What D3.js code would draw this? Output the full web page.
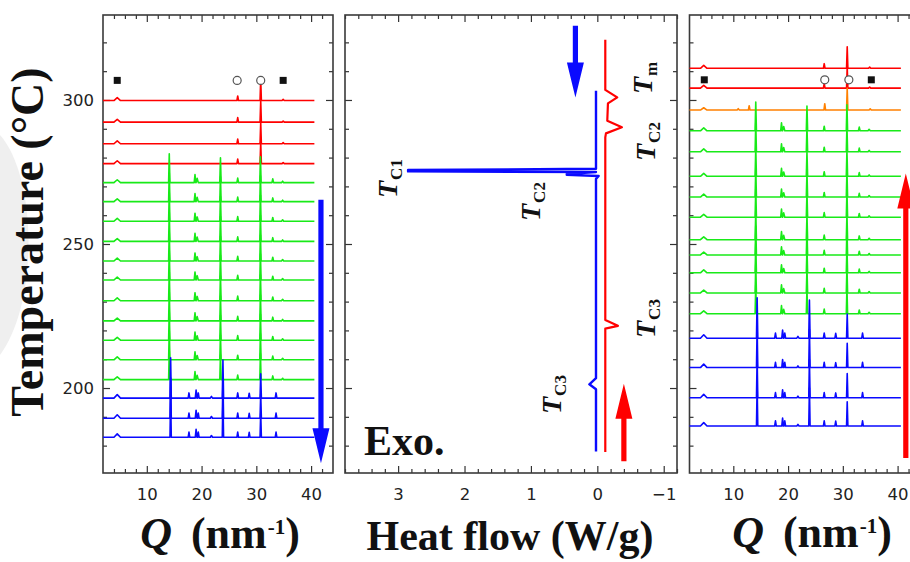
<!DOCTYPE html>
<html>
<head>
<meta charset="utf-8">
<script src="https://cdn.jsdelivr.net/npm/d3@7"></script>
<style>
  html, body { margin: 0; padding: 0; background: #fff; }
  svg { display: block; }
  .tick text { font-family: "DejaVu Sans", Arial, sans-serif; font-size: 16.5px; fill: #222; }
  .tick line { stroke: #333; stroke-width: 1.2; }
  .serif { font-family: "Liberation Serif", "Times New Roman", serif; font-weight: bold; fill: #111; }
</style>
</head>
<body>
<svg id="canvas" width="910" height="562"></svg>
<script>
'use strict';

/* XRD on cooling (left panel): temperature of each trace, top to bottom */
const coolTemps  = [299.8, 292.3, 284.8, 277.9, 271.3, 264.7, 257.9, 250.9, 244.1, 237.5,
                    230.3, 223.3, 216.6, 209.8, 202.9, 196.5, 189.5, 182.9];
const coolPhases = ['melt', 'melt', 'melt', 'melt', 'mid', 'mid', 'mid', 'mid', 'mid', 'mid',
                    'mid', 'mid', 'mid', 'mid', 'mid', 'low', 'low', 'low'];

/* XRD on heating (right panel) */
const heatTemps  = [311.0, 304.1, 296.5, 289.3, 282.0, 273.5, 266.3, 259.3, 251.5, 246.2,
                    240.0, 233.0, 225.8, 217.3, 207.1, 196.6, 186.8];
const heatPhases = ['melt', 'melt', 'trans', 'mid', 'mid', 'mid', 'mid', 'mid', 'mid', 'mid',
                    'mid', 'mid', 'mid', 'low', 'low', 'low', 'low'];

/* peaks of each phase: [Q (nm-1), height (in °C of offset), half width (nm-1)] */
const meltPeaks  = [[4.6, 1.0, 0.6], [26.6, 1.6, 0.15], [30.8, 7.5, 0.12], [34.9, 0.4, 0.2]];
const transPeaks = [[4.6, 0.8, 0.6], [10.9, 0.5, 0.2], [12.9, 1.5, 0.15], [26.7, 2.2, 0.15],
                    [30.8, 7.6, 0.12], [35.0, 0.4, 0.2]];
const midPeaks   = [[4.6, 1.0, 0.6], [14.1, 10, 0.12], [18.8, 2.8, 0.15], [19.2, 1.5, 0.2],
                    [23.45, 8.6, 0.12], [26.6, 1.6, 0.15], [30.75, 9, 0.12], [33.0, 1.3, 0.15],
                    [34.8, 0.5, 0.2]];
const lowPeaks   = [[4.6, 1.2, 0.6], [14.35, 14, 0.12], [17.7, 1.8, 0.15], [19.0, 2.8, 0.15],
                    [19.4, 1.8, 0.15], [21.8, 0.6, 0.2], [23.9, 13.2, 0.12], [26.6, 1.8, 0.15],
                    [28.7, 1.7, 0.15], [30.8, 8.4, 0.12], [33.6, 1.8, 0.15]];
const qRange = [2.0, 40.6];

/* phase markers above the traces */
const coolSquares = [4.6, 34.9], coolCircles = [26.5, 30.8];
const heatSquares = [4.7, 35.2], heatCircles = [26.7, 31.1];
const coolMarkT = 306.8, heatMarkT = 307.0;

/* DSC traces: [heat flow (W/g), temperature (°C)] */
const coolDSC = [[0.02, 303.2], [0.02, 276.1], [2.85, 275.7], [2.85, 275.2], [0.02, 275.0],
                 [0.46, 274.3], [0.46, 274.0], [-0.02, 273.6], [0.02, 272.6], [0.02, 203.4],
                 [0.12, 201.3], [0.02, 199.6], [0.02, 178.0]];
const heatDSC = [[-0.12, 320.9], [-0.12, 303.5], [-0.30, 300.9], [-0.16, 298.8], [-0.15, 292.8],
                 [-0.37, 290.5], [-0.13, 288.4], [-0.12, 287.0], [-0.12, 223.6], [-0.31, 221.6],
                 [-0.12, 220.6], [-0.12, 177.8]];

/* arrows: [x value, start temperature, tip temperature] */
const coolArrowXRD = [41.8, 265.4, 173.9];
const heatArrowXRD = [41.5, 175.7, 274.5];
const coolArrowDSC = [0.33, 325.8, 300.9];
const heatArrowDSC = [-0.40, 174.6, 201.5];

const colors = { melt: '#ff0000', trans: '#ff8000', mid: '#18ea18', low: '#0a0aff' };
const peakSets = { melt: meltPeaks, trans: transPeaks, mid: midPeaks, low: lowPeaks };

const svg = d3.select('#canvas');
const plotTop = 15, plotBottom = 473;

/* faint watermark behind the left axis title */
svg.append('path')
  .attr('d', 'M0,135 C36,175 40,300 0,355 Z')
  .style('fill', '#efefef');

const yT = d3.scaleLinear().domain([170.5, 329.5]).range([plotBottom, plotTop]);
const xLeft = d3.scaleLinear().domain([2, 44]).range([103, 333]);
const xMid = d3.scaleLinear().domain([3.8, -1.2]).range([345, 677]);
const xRight = d3.scaleLinear().domain([2, 44]).range([689.5, 919.5]);

/* ticks pointing inward on all four sides of a panel */
function frame(x, y, xMajor, xMinor, yLabels, xLabels, fmt){
  let g = svg.append('g');
  let x0 = x.range()[0], x1 = x.range()[1];
  let yMajor = [200, 250, 300], yMinor = d3.range(180, 330, 10).filter(v => v % 50);

  let mk = function(axis, tr, values, size, labels, side){
    let a = axis.tickValues(values).tickSize(-size).tickPadding(labels ? 9 : 0);
    if(!labels) a.tickFormat('');
    else if(fmt) a.tickFormat(fmt);
    let ax = g.append('g').attr('transform', tr).call(a);
    ax.select('.domain').remove();
    if(labels && side === 'bottom'){
      ax.selectAll('.tick text').attr('dy', null).attr('y', 27);
    }
    if(labels && side === 'left'){
      ax.selectAll('.tick text').attr('dy', '0.36em');
    }
  };
  mk(d3.axisBottom(x), `translate(0,${plotBottom})`, xMajor, 7, xLabels, 'bottom');
  mk(d3.axisBottom(x), `translate(0,${plotBottom})`, xMinor, 4, false);
  mk(d3.axisTop(x), `translate(0,${plotTop})`, xMajor, 7, false);
  mk(d3.axisTop(x), `translate(0,${plotTop})`, xMinor, 4, false);
  mk(d3.axisLeft(y), `translate(${x0},0)`, yMajor, 7, yLabels, 'left');
  mk(d3.axisLeft(y), `translate(${x0},0)`, yMinor, 4, false);
  mk(d3.axisRight(y), `translate(${x1},0)`, yMajor, 7, false);
  mk(d3.axisRight(y), `translate(${x1},0)`, yMinor, 4, false);

  svg.append('rect')
    .attr('x', x0).attr('y', plotTop)
    .attr('width', x1 - x0).attr('height', plotBottom - plotTop)
    .style('fill', 'none').style('stroke', '#3a3a3a').style('stroke-width', 1.6);
}

/* one XRD trace as a polyline through baseline and peak apex points */
function tracePoints(T, peaks){
  let pts = [[qRange[0], T]];
  peaks.forEach(function(p){
    pts.push([p[0] - p[2], T], [p[0], T + p[1]], [p[0] + p[2], T]);
  });
  pts.push([qRange[1], T]);
  return pts;
}

function xrdPanel(x, temps, phases, squares, circles, markT){
  let line = d3.line().x(d => x(d[0])).y(d => yT(d[1]));
  let traces = temps.map((T, i) => ({ phase: phases[i], pts: tracePoints(T, peakSets[phases[i]]) }));
  svg.append('g').selectAll('path')
    .data(traces)
    .enter().append('path')
      .attr('d', d => line(d.pts))
      .style('fill', 'none')
      .style('stroke', d => colors[d.phase])
      .style('stroke-width', 1.6)
      .style('stroke-linejoin', 'round');

  svg.append('g').selectAll('rect')
    .data(squares)
    .enter().append('rect')
      .attr('x', d => x(d) - 3.5).attr('y', yT(markT) - 3.5)
      .attr('width', 7).attr('height', 7)
      .style('fill', '#111');
  svg.append('g').selectAll('circle')
    .data(circles)
    .enter().append('circle')
      .attr('cx', d => x(d)).attr('cy', yT(markT)).attr('r', 4)
      .style('fill', '#fff').style('stroke', '#555').style('stroke-width', 1.2);
}

function arrow(x, a, color){
  let ax = x(a[0]), y0 = yT(a[1]), y1 = yT(a[2]);
  let dir = y1 > y0 ? 1 : -1, head = 35, hw = 8.5, sw = 2.6;
  let yb = y1 - dir * head;
  let pts = [[ax - sw, y0], [ax - sw, yb], [ax - hw, yb], [ax, y1], [ax + hw, yb], [ax + sw, yb], [ax + sw, y0]];
  svg.append('path')
    .attr('d', d3.line()(pts) + 'Z')
    .style('fill', color);
}

function tLabel(px, py, sub){
  let t = svg.append('text').attr('class', 'serif')
    .attr('transform', `translate(${px},${py}) rotate(-90)`);
  t.append('tspan').style('font-style', 'italic').style('font-size', '28px').text('T');
  t.append('tspan').style('font-size', '17px').attr('dx', 1).attr('dy', 5).text(sub);
}

function qTitle(cx, by){
  let t = svg.append('text').attr('class', 'serif')
    .attr('x', cx).attr('y', by).attr('text-anchor', 'middle').style('font-size', '44px');
  t.append('tspan').style('font-style', 'italic').text('Q');
  t.append('tspan').attr('dx', 19).text('(nm');
  t.append('tspan').style('font-size', '21px').attr('dx', 1).attr('dy', -14).text('-1');
  t.append('tspan').attr('dy', 14).text(')');
}

/* left panel: XRD on cooling */
frame(xLeft, yT, [10, 20, 30, 40], d3.range(4, 44, 2).filter(v => v % 10), true, true);
xrdPanel(xLeft, coolTemps, coolPhases, coolSquares, coolCircles, coolMarkT);
arrow(xLeft, coolArrowXRD, colors.low);

/* middle panel: DSC */
frame(xMid, yT, [3, 2, 1, 0, -1],
      d3.range(-1.2, 3.81, 0.2).map(v => +v.toFixed(1)).filter(v => Math.abs(v % 1) > 0.01),
      false, true, d => d < 0 ? '\u22121' : d);
let dscLine = d3.line().x(d => xMid(d[0])).y(d => yT(d[1]));
svg.append('path').datum(coolDSC).attr('d', dscLine)
  .style('fill', 'none').style('stroke', colors.low).style('stroke-width', 2.4).style('stroke-linejoin', 'round');
svg.append('path').datum(heatDSC).attr('d', dscLine)
  .style('fill', 'none').style('stroke', colors.melt).style('stroke-width', 2.2).style('stroke-linejoin', 'round');
arrow(xMid, coolArrowDSC, colors.low);
arrow(xMid, heatArrowDSC, colors.melt);
tLabel(397, 198, 'C1');
tLabel(540, 221, 'C2');
tLabel(652, 94, 'm');
tLabel(655, 161, 'C2');
tLabel(655, 338, 'C3');
tLabel(561, 414, 'C3');
svg.append('text').attr('class', 'serif').attr('x', 364).attr('y', 455)
  .style('font-size', '42px').text('Exo.');

/* right panel: XRD on heating */
frame(xRight, yT, [10, 20, 30, 40], d3.range(4, 44, 2).filter(v => v % 10), false, true);
xrdPanel(xRight, heatTemps, heatPhases, heatSquares, heatCircles, heatMarkT);
arrow(xRight, heatArrowXRD, colors.melt);

/* axis titles */
svg.append('text').attr('class', 'serif')
  .attr('transform', 'translate(43,242) rotate(-90)')
  .attr('text-anchor', 'middle').style('font-size', '46px')
  .text('Temperature (\u00B0C)');
qTitle(220, 548);
qTitle(812, 547);
svg.append('text').attr('class', 'serif')
  .attr('x', 510).attr('y', 550).attr('text-anchor', 'middle').style('font-size', '42px')
  .text('Heat flow (W/g)');
</script>
</body>
</html>
